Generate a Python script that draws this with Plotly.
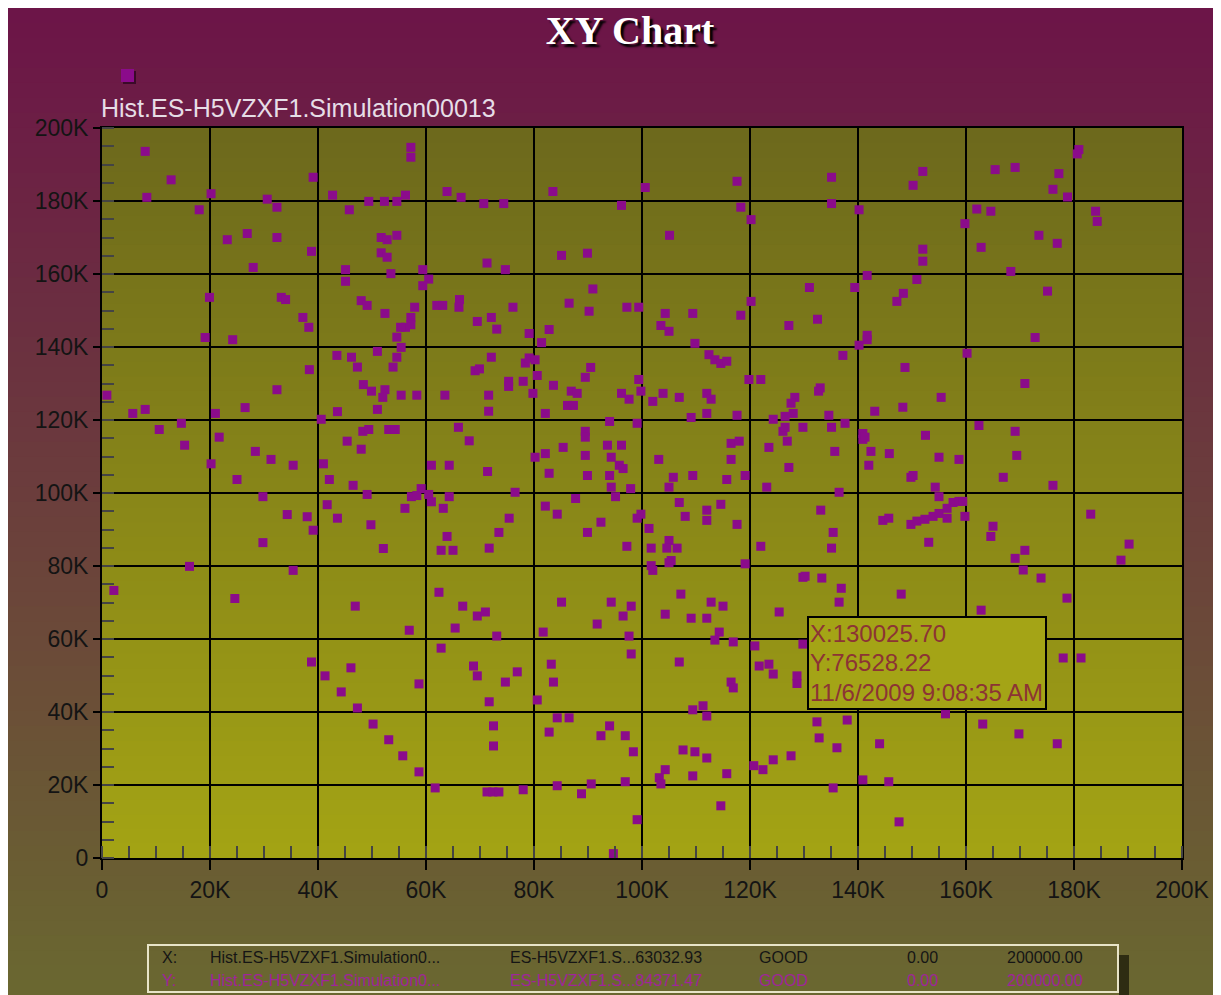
import plotly.graph_objects as go

# scatter values in thousands
x_k = [
    8.0, 12.8, 8.3, 20.2, 18.0, 39.1, 30.6, 32.4, 42.7, 45.8, 49.4, 52.3, 54.6, 56.2, 57.2, 57.2, 63.9, 66.5,
    23.2, 26.9, 32.4, 38.8, 28.0, 51.7, 52.8, 54.6, 51.7, 52.8, 45.1, 45.1, 53.5, 59.4, 60.5, 59.4,
    19.9, 33.2, 34.0, 37.2, 38.3, 19.1, 24.2, 48.0, 49.1, 52.4, 57.9, 57.2, 57.2, 56.2, 55.3, 54.6, 55.4, 54.6, 53.9, 62.0, 63.1,
    51.0, 43.5, 46.2, 47.3, 38.4, 32.4, 48.4, 49.9, 52.4, 52.0, 55.4, 58.3, 63.5, 0.9, 5.7, 8.0, 21.0, 26.5, 43.6, 51.0, 40.6,
    10.6, 14.7, 15.3, 21.7, 28.4, 31.3, 35.4, 20.2, 25.0, 41.0, 42.1, 46.5, 45.4, 48.0, 48.3, 49.4, 53.1, 54.3, 61.0, 64.3, 66.0, 59.1,
    70.7, 74.4, 83.5, 96.2, 100.6, 117.6, 118.3, 120.2, 105.1, 71.3, 74.7, 85.1, 89.9, 90.9, 66.2, 66.1, 76.1, 86.5, 90.2, 97.2, 99.4,
    69.5, 72.1, 73.1, 79.1, 82.8, 81.4, 104.3, 109.4, 103.5, 105.0, 109.8, 118.3, 120.2, 131.0, 127.2, 132.5,
    72.1, 69.1, 69.9, 78.4, 79.1, 80.2, 90.5, 89.5, 80.6, 75.3, 75.3, 78.0, 83.6, 79.8, 71.6, 71.6, 82.1, 86.9, 88.0, 86.2, 87.3,
    96.2, 97.6, 99.4, 99.8, 102.0, 103.9, 106.9, 112.4, 113.5, 114.6, 115.7, 112.0, 112.8, 112.0, 109.1, 117.6, 119.8, 122.0,
    128.3, 127.6, 128.0, 126.5, 124.3, 94.0, 99.1, 68.0, 89.5, 89.5, 85.4, 82.1, 80.2, 93.6, 96.2, 89.5, 94.3, 95.8, 96.5, 71.4,
    82.8, 89.9, 94.0, 103.1, 105.8, 109.4, 116.5, 116.5, 118.0, 123.5, 126.1, 126.5, 129.8, 126.9, 127.2, 115.7, 119.1, 123.1,
    105.0, 94.3, 97.9,
    180.9, 180.6, 165.4, 169.1, 177.2, 176.1, 178.8, 135.1, 152.0, 150.2, 135.1, 140.2, 162.0, 164.6, 159.8, 184.0, 184.3,
    173.5, 176.9, 162.8, 152.0, 152.0, 168.3, 141.7, 150.9, 139.4, 148.4, 147.2, 175.1,
    141.7, 141.7, 140.2, 172.8, 137.2, 160.2, 148.7, 170.9, 133.0, 132.7, 155.4, 143.1, 148.3, 134.6, 135.1, 137.6, 140.9,
    140.9, 141.3, 135.7, 142.4, 145.8, 142.0, 152.5, 155.0, 158.7, 162.4, 169.1, 169.4, 166.9, 176.1, 149.8, 150.2, 154.3,
    29.8, 49.1, 57.3, 58.3, 60.5, 61.0, 64.3, 41.7, 34.3, 38.0, 43.6, 39.1, 56.1, 63.2, 49.8, 29.8, 52.1, 63.9, 62.8, 65.0,
    16.2, 35.4, 2.2, 24.6, 46.9, 62.4, 66.8, 56.9, 65.4, 62.8, 38.8, 41.3, 46.1, 44.3, 58.7, 47.3, 50.2, 53.1, 55.7, 58.7, 61.7,
    76.5, 82.1, 84.3, 87.7, 89.9, 92.4, 95.1, 75.4, 73.5, 71.7, 97.2, 99.1, 99.8, 101.3, 101.7, 106.9, 108.0, 112.0, 112.0,
    114.6, 117.6, 122.0, 133.1, 105.0, 104.6, 106.5, 105.4, 105.0, 101.7, 102.0, 119.1, 129.8, 130.2, 133.3,
    69.5, 71.0, 73.1, 81.7, 85.1, 91.7, 94.3, 96.5, 98.0, 97.6, 98.0, 104.3, 107.2, 109.1, 112.0, 112.8, 115.0, 114.3, 113.5,
    116.9, 120.9, 125.4, 129.8,
    68.8, 69.5, 74.7, 76.9, 71.7, 83.2, 83.6, 80.6, 106.9, 116.5, 116.9, 121.7, 123.5, 124.3, 128.7, 128.7, 109.4, 111.3,
    112.0, 84.3, 86.5, 72.5, 82.8, 94.0, 92.4, 96.9, 98.4, 72.5, 107.6, 109.8, 112.0, 104.3, 103.2, 103.5, 109.4, 115.7,
    120.7, 122.4, 124.3, 127.6, 132.4, 132.8, 71.3, 72.4, 73.5, 78.0, 84.3, 88.8, 90.6, 96.9, 114.6, 99.1, 94.7,
    136.5, 155.0, 135.4, 135.1, 144.6, 145.7, 149.8, 150.9, 152.4, 153.9, 155.0, 156.5, 157.6, 158.7, 159.4, 156.5, 159.8,
    153.1, 165.0, 164.6, 169.1, 170.9, 170.6, 173.9, 183.1, 190.2, 188.7, 136.9, 136.5, 148.0, 162.8, 178.7, 178.0, 181.3,
    156.2, 138.0, 136.1, 144.0, 163.1, 169.8, 176.9, 140.9, 145.7, 135.4, 147.6,
]
y_k = [
    193.6, 185.8, 181.0, 182.0, 177.6, 186.5, 180.5, 178.3, 181.6, 177.6, 179.9, 179.9, 179.9, 181.6, 194.7, 192.0, 182.6, 181.0,
    169.4, 171.1, 170.0, 166.2, 161.8, 170.0, 169.4, 170.6, 165.8, 164.6, 161.2, 158.0, 160.1, 161.2, 158.6, 156.8,
    153.6, 153.6, 153.0, 148.1, 145.4, 142.6, 142.0, 152.7, 151.4, 149.2, 150.9, 148.1, 146.1, 145.4, 145.4, 142.7, 139.9, 137.2, 134.5, 151.4, 151.4,
    138.8, 137.7, 137.2, 134.5, 133.8, 128.3, 129.7, 127.9, 128.3, 126.2, 126.8, 126.8, 126.8, 126.8, 121.8, 122.9, 121.8, 123.4, 122.3, 122.9, 120.2,
    117.4, 119.1, 113.1, 115.3, 111.4, 109.2, 107.6, 108.0, 103.7, 108.0, 103.7, 102.1, 114.2, 112.0, 116.9, 117.4, 117.4, 117.4, 107.6, 107.6, 118.0, 101.2,
    179.3, 179.3, 182.6, 178.8, 183.7, 185.4, 178.3, 174.9, 170.6, 163.0, 161.2, 165.1, 165.7, 155.9, 153.0, 150.9, 150.9, 152.0, 149.8, 150.9, 150.9,
    147.0, 148.1, 144.9, 143.7, 144.8, 141.2, 149.2, 149.2, 145.9, 144.3, 141.0, 148.7, 152.5, 156.3, 145.9, 147.6,
    137.2, 133.5, 134.0, 135.6, 137.0, 136.5, 134.4, 131.7, 132.2, 130.6, 129.2, 130.6, 129.5, 127.3, 126.8, 122.4, 121.8, 127.9, 127.3, 124.0, 124.0,
    127.3, 125.7, 131.1, 127.9, 125.1, 127.3, 126.2, 137.9, 136.5, 135.5, 136.1, 127.3, 125.7, 121.8, 120.7, 121.3, 131.1, 131.1,
    126.2, 124.6, 121.8, 121.0, 120.2, 119.6, 119.1, 114.3, 116.9, 115.3, 112.5, 110.8, 109.8, 113.1, 113.1, 110.3, 109.8, 107.6, 106.7, 105.9,
    105.4, 104.8, 104.8, 109.2, 104.3, 104.8, 109.2, 113.6, 114.2, 112.5, 116.9, 118.0, 118.0, 114.2, 107.0, 103.7, 104.8, 101.6,
    101.6, 101.6, 101.2,
    194.1, 192.9, 188.6, 189.2, 187.5, 183.2, 181.1, 186.5, 188.1, 184.3, 179.3, 177.6, 177.8, 177.2, 173.8, 177.2, 174.4,
    170.6, 168.4, 167.3, 166.8, 163.5, 160.7, 159.6, 158.5, 156.3, 154.7, 152.5, 155.3,
    143.2, 142.0, 140.5, 142.6, 137.7, 138.3, 134.4, 130.0, 128.8, 127.9, 126.2, 122.4, 123.5, 121.3, 118.0, 119.1, 116.3,
    114.7, 115.3, 111.4, 111.4, 110.8, 107.6, 115.8, 109.8, 109.2, 118.5, 116.9, 110.3, 104.3, 102.1, 104.3, 104.8, 101.6,
    99.0, 99.6, 99.0, 99.3, 99.6, 97.6, 99.0, 96.8, 94.1, 93.5, 93.1, 89.8, 95.8, 95.8, 91.3, 86.4, 84.8, 88.1, 84.3, 84.3,
    79.9, 78.8, 73.3, 71.1, 69.0, 72.8, 69.0, 62.4, 63.0, 57.5, 53.7, 49.9, 52.1, 45.5, 47.7, 41.1, 36.7, 32.4, 28.0, 23.6, 19.2,
    100.2, 96.4, 94.2, 98.5, 89.2, 92.0, 99.0, 93.1, 89.2, 84.9, 85.4, 93.1, 94.2, 90.3, 84.9, 97.4, 93.6, 95.3, 92.5,
    96.9, 91.4, 85.4, 95.3, 87.0, 84.9, 84.9, 81.5, 80.9, 80.1, 78.8, 80.6, 76.9, 77.2, 76.7,
    66.3, 67.4, 60.8, 61.9, 70.1, 64.1, 70.1, 66.3, 69.0, 60.8, 55.9, 66.8, 72.3, 65.7, 65.7, 70.1, 69.0, 61.9, 59.7,
    59.2, 58.1, 67.4, 58.6,
    52.6, 49.9, 48.2, 51.0, 42.8, 53.1, 48.2, 43.3, 53.7, 48.2, 46.6, 52.6, 53.1, 50.4, 49.9, 47.8, 40.6, 41.7,
    38.9, 38.4, 38.4, 36.2, 34.5, 36.2, 33.5, 33.5, 29.1, 30.7, 29.6, 29.1, 27.4, 24.2, 22.0, 20.3, 22.5, 23.1,
    25.3, 24.2, 26.9, 28.0, 37.3, 32.9, 18.1, 18.1, 18.1, 18.7, 19.8, 17.6, 20.3, 20.9, 14.3, 10.5, 1.2,
    100.2, 99.0, 89.2, 84.9, 92.5, 93.1, 91.4, 92.3, 92.8, 93.6, 94.4, 95.8, 97.4, 97.7, 97.7, 93.1, 93.6,
    86.5, 90.9, 88.1, 82.1, 84.3, 78.9, 76.7, 94.2, 86.0, 81.6, 73.9, 70.1, 72.3, 67.9, 71.2, 54.8, 54.8,
    39.5, 37.8, 30.2, 31.3, 36.7, 34.0, 31.3, 21.4, 20.9, 19.2, 9.9,
]

tick_vals = [0, 20, 40, 60, 80, 100, 120, 140, 160, 180, 200]
tick_text = ["0", "20K", "40K", "60K", "80K", "100K", "120K", "140K", "160K", "180K", "200K"]

series_name = "Hist.ES-H5VZXF1.Simulation00013"
tip_lines = ["X:130025.70", "Y:76528.22", "11/6/2009 9:08:35 AM"]

row_x = ["X:", "Hist.ES-H5VZXF1.Simulation0...", "ES-H5VZXF1.S...63032.93", "GOOD", "0.00", "200000.00"]
row_y = ["Y:", "Hist.ES-H5VZXF1.Simulation0...", "ES-H5VZXF1.S...84371.47", "GOOD", "0.00", "200000.00"]
col_left = [160, 208, 508, 757, 905, 1005]

# the page body has an 8px margin, so the figure is 8px smaller than the window
OFF = 8
W_FIG, H_FIG = 1221 - OFF, 995 - OFF
# plot area in window pixels
PL, PT, W, H = 102, 128, 1080, 730


def px(x):
    return (x - PL) / W


def py(y):
    return (PT + H - y) / H


def mix(c0, c1, f):
    return "rgb(%d,%d,%d)" % tuple(round(a + (b - a) * f) for a, b in zip(c0, c1))


shapes = []

# page background gradient (maroon -> olive)
n = 66
top, bot = OFF, 995
for i in range(n):
    y0 = top + (bot - top) * i / n
    y1 = top + (bot - top) * (i + 1) / n + 1
    shapes.append(dict(type="rect", xref="paper", yref="paper", layer="below",
                       x0=px(OFF), x1=px(1221), y0=py(y1), y1=py(y0),
                       fillcolor=mix((108, 20, 72), (106, 104, 48), (i + 0.5) / n), line_width=0))

# plot area gradient (dark olive -> yellow)
n = 50
for i in range(n):
    shapes.append(dict(type="rect", xref="paper", yref="paper", layer="below",
                       x0=0, x1=1, y0=1 - (i + 1) / n - 0.002, y1=1 - i / n,
                       fillcolor=mix((108, 104, 28), (164, 164, 20), (i + 0.5) / n), line_width=0))

# legend swatch
shapes.append(dict(type="rect", xref="paper", yref="paper", x0=px(123), x1=px(136), y0=py(84), y1=py(71),
                   fillcolor="#3a0a28", line_width=0))
shapes.append(dict(type="rect", xref="paper", yref="paper", x0=px(121), x1=px(134), y0=py(82), y1=py(69),
                   fillcolor="#8b0b8b", line_width=0))

# tooltip box
shapes.append(dict(type="rect", xref="paper", yref="paper", x0=px(808), x1=px(1046), y0=py(709), y1=py(617),
                   fillcolor="#a4a416", line=dict(color="black", width=2)))

# bottom table box + shadow
shapes.append(dict(type="rect", xref="paper", yref="paper", x0=px(1119), x1=px(1129), y0=py(995), y1=py(955),
                   fillcolor="#2e2c12", line_width=0))
shapes.append(dict(type="rect", xref="paper", yref="paper", x0=px(148), x1=px(1118), y0=py(992), y1=py(945),
                   fillcolor="rgba(0,0,0,0)", line=dict(color="#e8e4c8", width=2)))

annotations = [
    dict(text=series_name, xref="paper", yref="paper", x=px(99), y=py(108), xanchor="left", yanchor="middle",
         showarrow=False, font=dict(family="Liberation Sans", size=25, color="#e6dde6")),
]
for k, line in enumerate(tip_lines):
    annotations.append(dict(text=line, xref="paper", yref="paper", x=px(808), y=py(633 + 29.5 * k),
                            xanchor="left", yanchor="middle", showarrow=False,
                            font=dict(family="Liberation Sans", size=24, color="#8c3434")))
for row, yy, col in [(row_x, 957, "#151515"), (row_y, 980, "#a0259a")]:
    for txt, xx in zip(row, col_left):
        annotations.append(dict(text=txt, xref="paper", yref="paper", x=px(xx), y=py(yy),
                                xanchor="left", yanchor="middle", showarrow=False,
                                font=dict(family="Liberation Sans", size=16, color=col)))

fig = go.Figure()
fig.add_trace(go.Scatter(x=x_k, y=y_k, mode="markers", name=series_name,
                         marker=dict(symbol="square", size=9, color="#8b0b8b", line=dict(width=0))))

axis_style = dict(
    range=[0, 200], tickvals=tick_vals, ticktext=tick_text,
    showgrid=True, gridcolor="black", gridwidth=2, zeroline=False,
    showline=True, linecolor="black", linewidth=2, mirror=True,
    ticks="outside", tickcolor="black", tickwidth=2,
    tickfont=dict(family="Liberation Sans", size=23, color="#141414"),
    minor=dict(dtick=5, ticks="inside", ticklen=12, tickcolor="#444", tickwidth=2, showgrid=False),
    fixedrange=True,
)

fig.update_layout(
    width=W_FIG, height=H_FIG,
    margin=dict(l=PL - OFF, r=1221 - PL - W, t=PT - OFF, b=995 - PT - H),
    paper_bgcolor="white", plot_bgcolor="rgba(0,0,0,0)",
    showlegend=False,
    title=dict(text="<b>XY Chart</b>", x=(630 - OFF) / W_FIG, xanchor="center", xref="container",
               y=1 - (30 - OFF) / H_FIG, yanchor="middle",
               font=dict(family="Liberation Serif", size=40, color="white", shadow="3px 3px 2px #000")),
    shapes=shapes, annotations=annotations,
)
fig.update_xaxes(**axis_style, ticklen=10)
fig.update_yaxes(**axis_style, ticklen=7)

fig.write_html("out.html")
